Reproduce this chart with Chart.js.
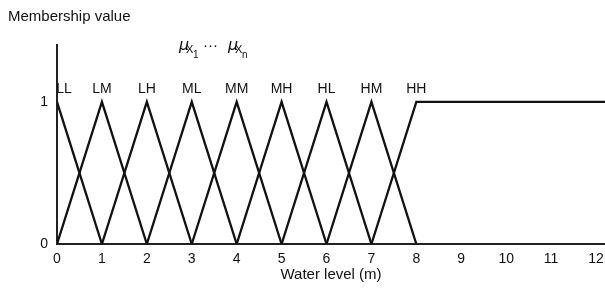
<!DOCTYPE html>
<html>
<head>
<meta charset="utf-8">
<script src="https://cdn.jsdelivr.net/npm/chart.js@4.4.0/dist/chart.umd.min.js"></script>
<style>
  html, body { margin: 0; padding: 0; background: #fff; }
  #wrap { width: 605px; height: 289px; position: relative; }
</style>
</head>
<body>
<div id="wrap"><canvas id="FuzzyChart"></canvas></div>
<script>
// fuzzy sets for water level, one triangle per set
const setNames = ["LL", "LM", "LH", "ML", "MM", "MH", "HL", "HM", "HH"];
const peaks = [0, 1, 2, 3, 4, 5, 6, 7, 8];
const halfWidth = 1;
const xTicks = [0, 1, 2, 3, 4, 5, 6, 7, 8, 9, 10, 11, 12];
const yTicks = [0, 1];
const xMax = 12.2;
const yMax = 1.4;

const FONT = "'Liberation Sans', Arial, sans-serif";

function buildPoints(i) {
    let p = peaks[i];
    let pts = [];
    if (i > 0) pts.push({x: p - halfWidth, y: 0});
    pts.push({x: p, y: 1});
    if (i < peaks.length - 1) pts.push({x: p + halfWidth, y: 0});
    else pts.push({x: xMax, y: 1});
    return pts;
}

let datasets = setNames.map((name, i) => ({
    label: name,
    data: buildPoints(i),
    borderColor: "#111",
    borderWidth: 2.3,
    pointRadius: 0,
    fill: false,
    tension: 0,
    borderJoinStyle: "miter"
}));

const textPlugin = {
    id: "fuzzyText",
    afterDraw(chart) {
        let ctx = chart.ctx;
        let xs = chart.scales.x;
        let ys = chart.scales.y;
        ctx.save();
        ctx.fillStyle = "#111";
        ctx.textBaseline = "middle";

        // y axis title at the top left
        ctx.font = "15px " + FONT;
        ctx.textAlign = "left";
        ctx.fillText("Membership value", 8, 17);

        // set names over the peaks
        ctx.font = "14px " + FONT;
        ctx.textAlign = "center";
        setNames.forEach((name, i) => {
            let px = xs.getPixelForValue(peaks[i]);
            if (i === 0) px += 7;
            ctx.fillText(name, px, ys.getPixelForValue(1) - 13);
        });

        // mu_X1 ... mu_Xn
        ctx.textAlign = "left";
        ctx.textBaseline = "alphabetic";
        let drawMu = (x, sub) => {
            ctx.font = "italic 16px 'DejaVu Sans', sans-serif";
            ctx.fillText("\u03bc", x, 50);
            ctx.font = "11px " + FONT;
            ctx.fillText("X", x + 7, 53);
            ctx.font = "10px " + FONT;
            ctx.fillText(sub, x + 14, 58);
        };
        drawMu(179, "1");
        ctx.font = "15px " + FONT;
        ctx.fillText("\u00b7\u00b7\u00b7", 203, 50);
        drawMu(228, "n");
        ctx.restore();
    }
};

let ctx = document.getElementById("FuzzyChart").getContext("2d");
let fuzzyChart = new Chart(ctx, {
    type: "line",
    data: {datasets: datasets},
    options: {
        responsive: true,
        maintainAspectRatio: false,
        animation: false,
        layout: {padding: {top: 45, right: 0, left: 0, bottom: 0}},
        plugins: {
            legend: {display: false},
            tooltip: {enabled: false}
        },
        scales: {
            x: {
                type: "linear",
                min: 0,
                max: xMax,
                afterBuildTicks: (scale) => { scale.ticks = xTicks.map(v => ({value: v})); },
                afterFit: (scale) => {
                    scale.height = 45;
                    scale.paddingRight = 0;
                    scale.paddingLeft = 0;
                },
                grid: {display: false, drawTicks: false},
                border: {display: true, color: "#222", width: 2},
                ticks: {color: "#111", padding: 7, maxRotation: 0, autoSkip: false,
                    font: {family: FONT, size: 14}},
                title: {display: true, text: "Water level (m)", color: "#111",
                    padding: {top: 0, bottom: 5}, font: {family: FONT, size: 15}}
            },
            y: {
                type: "linear",
                min: 0,
                max: yMax,
                afterBuildTicks: (scale) => { scale.ticks = yTicks.map(v => ({value: v})); },
                afterFit: (scale) => { scale.width = 57; },
                grid: {display: false, drawTicks: false},
                border: {display: true, color: "#222", width: 2},
                ticks: {color: "#111", padding: 9, font: {family: FONT, size: 14}}
            }
        }
    },
    plugins: [textPlugin]
});
</script>
</body>
</html>
